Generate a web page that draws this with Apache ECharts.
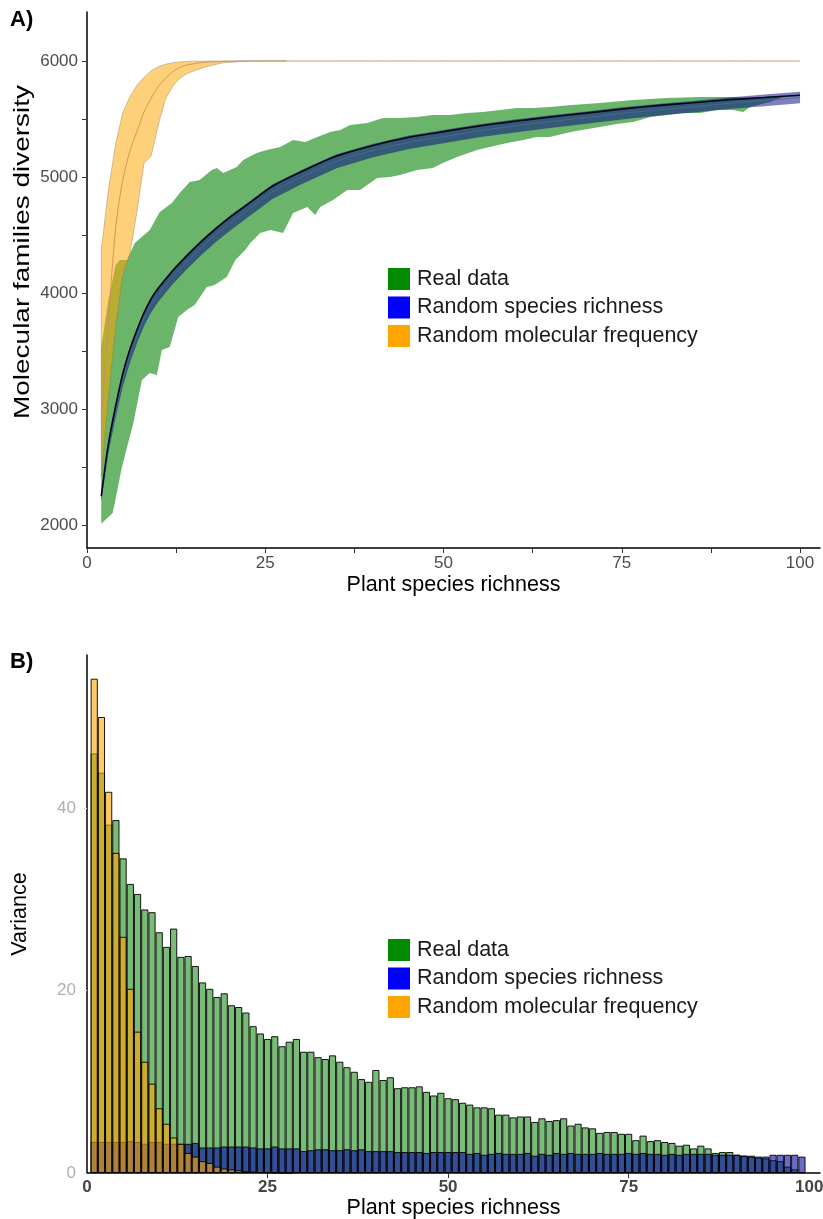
<!DOCTYPE html>
<html>
<head>
<meta charset="utf-8">
<script src="https://cdn.jsdelivr.net/npm/echarts@6/dist/echarts.min.js"></script>
<style>
  html, body { margin: 0; padding: 0; background: #fff; }
  #chart { width: 823px; height: 1219px; }
</style>
</head>
<body>
<div id="chart"></div>
<script>
// ---- panel A : ribbons (x = plant species richness, y = molecular families) ----
const greenUpper = [[2,3530],[3,3940],[4,4240],[4.6,4285],[5.6,4285],[6.7,4430],[8.8,4543],[10.2,4698],[11.9,4776],[13,4862],[14.4,4957],[15.8,4974],[17.5,5060],[18.2,5078],[19.1,5034],[21,5086],[21.9,5147],[23.8,5207],[25.2,5233],[27.1,5259],[28.9,5319],[30.6,5302],[32.3,5345],[34.1,5388],[35.5,5405],[36.9,5448],[39.3,5466],[41.5,5509],[43.9,5509],[46.3,5517],[48.5,5534],[50.9,5534],[53.3,5552],[55.5,5560],[57.9,5578],[60.3,5595],[62.6,5595],[64.9,5603],[68,5620],[71.9,5638],[76.6,5664],[81.3,5681],[86,5690],[90.6,5690],[93,5681],[96,5695],[98,5700]];
const greenLower = [[2,2010],[3.6,2103],[3.9,2190],[4.9,2500],[6.5,2879],[7.7,3250],[8.8,3310],[9.8,3293],[10.5,3509],[11.6,3534],[12.8,3793],[14,3853],[15.1,3897],[16.8,4052],[17.9,4069],[19.6,4138],[20.8,4285],[22.2,4371],[22.9,4431],[24.3,4517],[25.7,4543],[27.5,4517],[28.9,4690],[30.9,4741],[32,4672],[32.7,4741],[34.5,4802],[36.5,4888],[38.3,4888],[39.3,4931],[40.7,4991],[42.5,5000],[43.9,5017],[46.3,5060],[48.5,5078],[49.9,5121],[51.9,5172],[54.7,5233],[56.5,5259],[58.9,5293],[61.2,5319],[63.1,5345],[64.9,5345],[68,5390],[71.9,5431],[74.3,5457],[76.6,5474],[79,5517],[81.3,5534],[83.6,5552],[86,5552],[88.4,5578],[90.6,5578],[92,5560],[93,5603],[96,5650],[98,5700]];

const blueX     = [2,3,4,5,6,7,8,9,10,12,14,16,18,20,23,26,30,35,40,45,50,55,60,65,70,75,80,85,90,95,100];
const blueUpper = [2260,2710,3035,3315,3525,3695,3845,3965,4055,4205,4335,4455,4565,4665,4800,4935,5058,5195,5285,5355,5405,5455,5495,5532,5565,5600,5630,5655,5685,5710,5735];
const blueLower = [2200,2620,2920,3190,3395,3565,3715,3835,3925,4075,4205,4325,4435,4535,4672,4810,4935,5075,5167,5240,5290,5342,5384,5422,5458,5495,5527,5555,5585,5610,5635];
const blueMean  = [2230,2665,2975,3250,3460,3630,3780,3900,3990,4140,4270,4390,4500,4600,4736,4872,4996,5135,5226,5297,5347,5398,5440,5477,5512,5548,5578,5605,5635,5660,5685];
const blackLine = [2250,2700,3020,3300,3510,3680,3830,3950,4040,4190,4320,4440,4550,4650,4785,4920,5043,5180,5270,5340,5390,5440,5480,5517,5550,5585,5615,5640,5665,5685,5705];

const orangeX     = [2,3,4,5,6,7,8,9,10,11,12,13,14,15,17,19,22,25,28];
const orangeUpper = [4370,4890,5280,5550,5690,5790,5860,5915,5950,5972,5985,5992,5996,5998,6000,6000,6000,6000,6000];
const orangeLower = [2414,3100,3700,4150,4330,4700,5120,5180,5450,5670,5780,5850,5890,5915,5955,5983,5997,6000,6000];
const orangeMeanX = [2,3,4,5,6,7,8,9,10,11,12,13,14,16,18,20,25,100];
const orangeMean  = [2900,3750,4550,4970,5220,5390,5560,5680,5780,5850,5905,5945,5965,5985,5993,5998,6000,6000];

// ---- panel B : variance per richness value (1..99) ----
const varGreen = [46.0,43.9,38.2,38.7,34.5,31.7,30.6,28.9,28.6,26.4,24.8,26.8,23.7,23.8,22.7,20.9,20.2,19.3,19.7,18.4,
  18.2,17.6,16.1,15.3,14.7,15.0,13.9,14.4,14.7,13.3,13.3,12.7,12.5,12.9,12.2,11.6,11.1,10.3,10.0,11.3,
  10.2,10.5,9.3,9.4,9.4,9.5,8.9,8.5,8.8,8.2,8.1,7.7,7.5,7.2,7.2,7.1,6.4,6.4,6.1,6.2,
  6.2,5.6,6.0,5.7,5.8,6.0,5.2,5.4,5.0,4.9,4.4,4.5,4.5,4.3,4.3,3.6,4.1,3.5,3.6,3.4,
  3.3,3.0,3.1,2.7,3.0,2.7,2.2,2.3,2.3,2.0,1.9,1.9,1.8,1.6,1.4,1.3,0.7,0.4,0.1];
const varBlue = [3.4,3.4,3.4,3.4,3.4,3.5,3.4,3.2,3.4,3.4,3.2,3.2,3.2,3.2,3.3,2.8,2.8,2.8,2.9,2.9,
  2.9,2.9,2.8,2.7,2.7,2.9,2.7,2.7,2.7,2.4,2.5,2.6,2.6,2.5,2.5,2.6,2.5,2.6,2.4,2.4,
  2.4,2.4,2.3,2.3,2.3,2.3,2.2,2.3,2.3,2.3,2.3,2.3,2.1,2.2,2.0,2.1,2.2,2.1,2.1,2.1,
  2.2,1.9,2.1,2.0,2.2,2.1,2.2,2.1,2.1,2.1,2.2,2.1,2.1,2.1,2.2,2.1,2.2,2.1,2.1,2.0,
  2.1,2.0,2.1,2.1,2.1,2.1,2.0,2.0,2.0,2.0,1.9,1.8,1.7,1.8,2.0,2.0,2.0,2.0,1.8];
const varOrange = [54.2,50.0,41.8,35.1,25.9,20.2,15.5,12.2,9.8,7.1,5.4,3.9,3.2,2.2,1.8,1.3,1.1,0.7,0.5,0.4,
  0.3,0.2,0.15,0.1,0.08,0.05,0.03,0.02];

const seriesNames = ['Real data', 'Random species richness', 'Random molecular frequency'];
const legendColors = ['#008b00', '#0000ff', '#ffa500'];
const xTicksA = [0, 12.5, 25, 37.5, 50, 62.5, 75, 87.5, 100];
const xLabels = [0, 25, 50, 75, 100];
const yLabelsA = [2000, 3000, 4000, 5000, 6000];
const yTicksA = [2000, 2500, 3000, 3500, 4000, 4500, 5000, 5500, 6000];
const yLabelsB = [0, 20, 40];

const FONT = '"Liberation Sans", Arial, Helvetica, sans-serif';

function pairs(xs, ys) {
  return xs.map((x, i) => [x, ys[i]]);
}

// filled ribbon between two edges, drawn through the axis scale
function ribbon(name, upper, lower, fill, stroke, z) {
  return {
    name: name,
    type: 'custom',
    xAxisIndex: 0,
    yAxisIndex: 0,
    z: z,
    silent: true,
    data: [upper[0]],
    renderItem: function (params, api) {
      const pts = upper.map(p => api.coord(p))
        .concat(lower.slice().reverse().map(p => api.coord(p)));
      return {
        type: 'polygon',
        shape: { points: pts },
        style: { fill: fill, stroke: stroke, lineWidth: stroke ? 0.7 : 0 }
      };
    }
  };
}

function barSeries(name, vals, fill, z) {
  return {
    name: name,
    type: 'bar',
    xAxisIndex: 1,
    yAxisIndex: 1,
    z: z,
    silent: true,
    barWidth: 7.2,
    barGap: '-100%',
    data: vals.map((v, i) => [i + 1, v]),
    itemStyle: { color: fill, borderColor: 'rgba(0,0,0,0.9)', borderWidth: 1 }
  };
}

const chart = echarts.init(document.getElementById('chart'), null, { renderer: 'canvas' });

const axisLine = { show: true, lineStyle: { color: '#000', width: 1.5 } };
const plain = v => String(v);

function legendAt(top) {
  return {
    left: 388, top: top, orient: 'vertical', selectedMode: false, padding: 0,
    icon: 'rect', itemWidth: 22, itemHeight: 22, itemGap: 6.5,
    textStyle: { fontSize: 21.5, color: '#1a1a1a', fontFamily: FONT, padding: [0, 0, 0, 2] },
    data: seriesNames.map((n, i) => ({ name: n, itemStyle: { color: legendColors[i], borderWidth: 0 } }))
  };
}

const option = {
  animation: false,
  backgroundColor: '#fff',
  textStyle: { fontFamily: FONT },
  graphic: [
    { type: 'text', left: 10, top: 9, style: { text: 'A)', font: 'bold 22px ' + FONT, fill: '#000' } },
    { type: 'text', left: 10, top: 651, style: { text: 'B)', font: 'bold 22px ' + FONT, fill: '#000' } },
    // panel A y title is drawn longer than the other titles in the original
    {
      type: 'text', x: 23, y: 252, rotation: Math.PI / 2, scaleX: 1.3,
      style: {
        text: 'Molecular families diversity', font: '21.5px ' + FONT, fill: '#000',
        align: 'center', verticalAlign: 'middle'
      }
    }
  ],
  legend: [legendAt(268), legendAt(939)],
  grid: [
    { left: 87, top: 12, width: 733, height: 536, outerBoundsMode: 'none', containLabel: false },
    { left: 87, top: 655, width: 733, height: 518, outerBoundsMode: 'none', containLabel: false }
  ],
  xAxis: [
    {
      gridIndex: 0, type: 'value', min: 0, max: 102.8,
      axisLine: axisLine,
      axisTick: { show: true, length: 5, customValues: xTicksA, lineStyle: { color: '#333' } },
      axisLabel: { customValues: xLabels, formatter: plain, color: '#4d4d4d', fontSize: 17, margin: 7 },
      splitLine: { show: false },
      name: 'Plant species richness', nameLocation: 'middle', nameGap: 26,
      nameTextStyle: { fontSize: 21.5, color: '#000' }
    },
    {
      gridIndex: 1, type: 'value', min: 0, max: 101.5,
      axisLine: axisLine,
      axisTick: { show: true, length: 5, customValues: [25, 50, 75], lineStyle: { color: '#333' } },
      axisLabel: { customValues: xLabels, formatter: plain, color: '#444', fontSize: 17, fontWeight: 'bold', margin: 6 },
      splitLine: { show: false },
      name: 'Plant species richness', nameLocation: 'middle', nameGap: 22,
      nameTextStyle: { fontSize: 21.5, color: '#000' }
    }
  ],
  yAxis: [
    {
      gridIndex: 0, type: 'value', min: 1802, max: 6422,
      axisLine: axisLine,
      axisTick: { show: true, length: 5, customValues: yTicksA, lineStyle: { color: '#333' } },
      axisLabel: { customValues: yLabelsA, formatter: plain, color: '#4d4d4d', fontSize: 17, margin: 9 },
      splitLine: { show: false }
    },
    {
      gridIndex: 1, type: 'value', min: 0, max: 56.8,
      axisLine: axisLine,
      axisTick: { show: true, length: 3, customValues: yLabelsB, lineStyle: { color: '#ddd' } },
      axisLabel: { customValues: yLabelsB, formatter: plain, color: '#b0b0b0', fontSize: 17, margin: 11 },
      splitLine: { show: false },
      name: 'Variance', nameLocation: 'middle', nameGap: 56,
      nameTextStyle: { fontSize: 21.5, color: '#000' }
    }
  ],
  series: [
    ribbon(seriesNames[0], greenUpper, greenLower, 'rgba(0,128,0,0.58)', null, 1),
    ribbon(seriesNames[2], pairs(orangeX, orangeUpper), pairs(orangeX, orangeLower), 'rgba(255,165,0,0.52)', 'rgba(140,110,80,0.55)', 2),
    ribbon(seriesNames[1], pairs(blueX, blueUpper), pairs(blueX, blueLower), 'rgba(0,0,128,0.5)', null, 3),
    {
      name: 'blue mean', type: 'line', xAxisIndex: 0, yAxisIndex: 0, z: 4, silent: true,
      data: pairs(blueX, blueMean), smooth: 0.3, symbol: 'none',
      lineStyle: { color: '#4a68a8', width: 0.8 }
    },
    {
      name: 'real mean', type: 'line', xAxisIndex: 0, yAxisIndex: 0, z: 5, silent: true,
      data: pairs(blueX, blackLine), smooth: 0.3, symbol: 'none',
      lineStyle: { color: '#05051a', width: 1.6 }
    },
    {
      name: 'orange mean', type: 'line', xAxisIndex: 0, yAxisIndex: 0, z: 4, silent: true,
      data: pairs(orangeMeanX, orangeMean), smooth: 0.3, symbol: 'none',
      lineStyle: { color: '#c8925a', width: 0.9 }
    },
    barSeries(seriesNames[0], varGreen, 'rgba(0,128,0,0.53)', 2),
    barSeries(seriesNames[1], varBlue, 'rgba(0,0,165,0.58)', 3),
    barSeries(seriesNames[2], varOrange, 'rgba(255,165,0,0.6)', 4)
  ]
};

chart.setOption(option);
</script>
</body>
</html>
